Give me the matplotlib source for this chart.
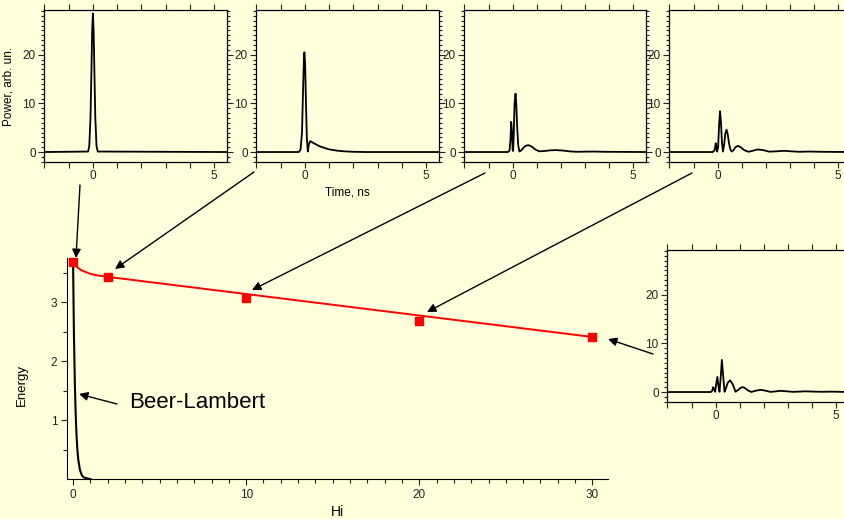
import matplotlib.pyplot as plt
from matplotlib.ticker import MultipleLocator, FixedLocator

plt.rcParams['font.family'] = ['Liberation Sans', 'DejaVu Sans']

BG = '#FFFFDC'
W, H = 844, 519

# output energy vs Hi (red squares) and the fitted curve through them
hi_points = [0, 2, 10, 20, 30]
energy_points = [3.68, 3.42, 3.07, 2.68, 2.41]

fit_hi = [0, 0.1, 0.25, 0.5, 0.75, 1.0, 1.5, 2.0, 30]
fit_energy = [3.68, 3.64, 3.59, 3.54, 3.51, 3.48, 3.45, 3.43, 2.41]

# Beer-Lambert decay
beer_hi = [0, 0.05, 0.1, 0.15, 0.2, 0.25, 0.3, 0.4, 0.5, 0.6, 0.8, 1.0]
beer_energy = [3.7, 2.47, 1.66, 1.11, 0.74, 0.5, 0.33, 0.15, 0.07, 0.03, 0.01, 0.0]

# pulse shapes, Hi = 0
t_hi0 = [-2, -0.2, -0.15, -0.1, -0.06, -0.03, 0, 0.03, 0.06, 0.1, 0.15, 0.2, 5.55]
p_hi0 = [0, 0.1, 1.2, 7, 17, 25, 28.5, 25, 17, 7, 1.2, 0.1, 0]

# Hi = 2
t_hi2 = [-2, -0.25, -0.18, -0.12, -0.08, -0.04, -0.02, 0.01, 0.04, 0.08, 0.12,
         0.16, 0.22, 0.3, 0.45, 0.6, 0.8, 1.0, 1.3, 1.6, 2.0, 2.5, 5.55]
p_hi2 = [0, 0, 0.5, 4, 12, 19.5, 20.5, 18, 11, 3, 0.1,
         1.5, 2.25, 2.0, 1.6, 1.2, 0.85, 0.55, 0.3, 0.15, 0.05, 0, 0]

# Hi = 10
t_hi10 = [-2, -0.2, -0.13, -0.09, -0.06, -0.03, 0.0, 0.02, 0.05, 0.08, 0.12, 0.15,
          0.19, 0.23, 0.28, 0.35, 0.45, 0.55, 0.67, 0.8, 0.95, 1.1, 1.3, 1.55,
          1.8, 2.1, 2.4, 2.7, 3.0, 3.4, 3.8, 5.55]
p_hi10 = [0, 0, 0.3, 2.5, 6.2, 4.5, 0.5, 0.2, 4, 10, 12, 10,
          5, 1.5, 0.1, 0.3, 0.9, 1.3, 1.4, 1.1, 0.5, 0.15, 0.2, 0.35,
          0.4, 0.3, 0.12, 0.05, 0.08, 0.1, 0.05, 0]

# Hi = 20
t_hi20 = [-2, -0.2, -0.12, -0.08, -0.05, -0.02, 0.02, 0.06, 0.1, 0.14, 0.18, 0.22,
          0.27, 0.32, 0.37, 0.42, 0.48, 0.54, 0.59, 0.66, 0.74, 0.86, 0.98, 1.1,
          1.28, 1.45, 1.66, 1.88, 2.14, 2.45, 2.75, 3.05, 3.4, 3.8, 4.3, 5.55]
p_hi20 = [0, 0, 0.4, 1.8, 1.2, 0.1, 1, 5.5, 8.4, 6, 2, 0.1,
          1.5, 3.8, 4.6, 3.6, 1.6, 0.4, 0.1, 0.4, 1.0, 1.27, 0.9, 0.4,
          0.05, 0.25, 0.53, 0.4, 0.08, 0.15, 0.25, 0.15, 0.05, 0.1, 0.05, 0]

# Hi = 30
t_hi30 = [-2, -0.2, -0.14, -0.1, -0.06, -0.02, 0.02, 0.07, 0.12, 0.16, 0.21, 0.26,
          0.31, 0.37, 0.43, 0.5, 0.6, 0.7, 0.83, 0.95, 1.05, 1.14, 1.25, 1.35,
          1.49, 1.65, 1.86, 2.05, 2.27, 2.48, 2.69, 2.95, 3.2, 3.45, 3.72, 4.0,
          4.4, 4.8, 5.55]
p_hi30 = [0, 0, 0.3, 1.0, 0.5, 0.05, 1.5, 3.1, 1.2, 0.05, 3, 6.6,
          3.5, 0.05, 0.8, 1.9, 2.4, 1.7, 0.05, 0.5, 0.9, 1.0, 0.7, 0.3,
          0.02, 0.25, 0.46, 0.3, 0.03, 0.12, 0.25, 0.15, 0.04, 0.08, 0.15, 0.1,
          0.05, 0.08, 0]


def box(left, top, right, bottom):
    # pixel box (top-left origin) -> figure fraction rect
    return [left / W, (H - bottom) / H, (right - left) / W, (bottom - top) / H]


def pulse_axes(fig, rect, t, p):
    ax = fig.add_axes(rect)
    ax.set_facecolor(BG)
    ax.plot(t, p, color='black', lw=1.3)
    ax.set_xlim(-2.02, 5.54)
    ax.set_ylim(-2.05, 29.2)
    ax.xaxis.set_major_locator(FixedLocator([0, 5]))
    ax.xaxis.set_minor_locator(MultipleLocator(1))
    ax.yaxis.set_major_locator(FixedLocator([0, 10, 20]))
    ax.yaxis.set_minor_locator(MultipleLocator(1))
    ax.tick_params(which='both', direction='out', top=True, right=True,
                   width=0.8, labelsize=8.5, colors='#222222', pad=2)
    ax.tick_params(which='major', length=4)
    ax.tick_params(which='minor', length=2.2)
    ax.tick_params(axis='x', which='minor', length=4)
    for s in ax.spines.values():
        s.set_linewidth(0.9)
    return ax


fig = plt.figure(figsize=(W / 100, H / 100), dpi=100, facecolor=BG)

# main plot
ax = fig.add_axes(box(67, 258, 608, 479))
ax.set_facecolor(BG)
ax.plot(beer_hi, beer_energy, color='black', lw=1.5)
ax.plot(fit_hi, fit_energy, color='red', lw=1.4)
ax.plot(hi_points, energy_points, 's', color='red', ms=5.6, clip_on=False)
ax.set_xlim(-0.35, 30.9)
ax.set_ylim(0, 3.75)
ax.spines['top'].set_visible(False)
ax.spines['right'].set_visible(False)
ax.xaxis.set_major_locator(FixedLocator([0, 10, 20, 30]))
ax.xaxis.set_minor_locator(MultipleLocator(1))
ax.yaxis.set_major_locator(FixedLocator([1, 2, 3]))
ax.yaxis.set_minor_locator(FixedLocator([0.5, 1.5, 2.5, 3.5]))
ax.tick_params(which='both', direction='out', width=0.8, labelsize=8.5,
               colors='#222222', pad=3)
ax.tick_params(which='major', length=4)
ax.tick_params(which='minor', length=3)

fig.text(22 / W, 1 - 385 / H, 'Energy', rotation=90, ha='center', va='center',
         fontsize=9.5)
fig.text(337 / W, 1 - 512 / H, 'Hi', ha='center', va='center', fontsize=10)
fig.text(129 / W, 1 - 403 / H, 'Beer-Lambert', ha='left', va='center',
         fontsize=16)

# insets with pulse shapes
ax1 = pulse_axes(fig, box(44, 10, 227, 162), t_hi0, p_hi0)
ax1.set_ylabel('Power, arb. un.', fontsize=8.5, labelpad=6)
ax2 = pulse_axes(fig, box(256, 10, 439, 162), t_hi2, p_hi2)
ax2.set_xlabel('Time, ns', fontsize=8.5, labelpad=3)
ax3 = pulse_axes(fig, box(464, 10, 646, 162), t_hi10, p_hi10)
ax4 = pulse_axes(fig, box(669, 10, 851, 162), t_hi20, p_hi20)
ax5 = pulse_axes(fig, box(667, 250, 849, 402), t_hi30, p_hi30)

# arrows from each pulse to its point (pixel coords, top-left origin)
arrows = [
    ((80, 185), (76, 258)),
    ((254, 172), (115, 269)),
    ((485, 173), (252, 290)),
    ((692, 173), (427, 312)),
    ((653, 354), (608, 339)),
    ((117, 404), (79, 394)),
]
for (x0, y0), (x1, y1) in arrows:
    ax.annotate('', xy=(x1, H - y1), xycoords='figure pixels',
                xytext=(x0, H - y0), textcoords='figure pixels',
                annotation_clip=False,
                arrowprops=dict(arrowstyle='-|>', color='black', lw=1.0,
                                mutation_scale=13, shrinkA=0, shrinkB=0))

fig.savefig('out.png', dpi=100, facecolor=BG)
